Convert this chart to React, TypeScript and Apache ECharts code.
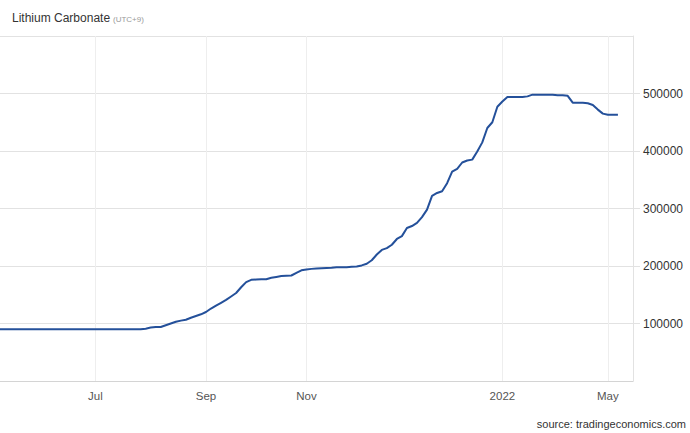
import React, { useEffect, useRef } from "react";
import * as echarts from "echarts";

// Tick labels on the category axis (index of the sample where each label sits)
const tickIndices: number[] = [19, 41, 61, 100, 121];
const tickNames: string[] = ["Jul", "Sep", "Nov", "2022", "May"];

// Lithium carbonate price samples (CNY/T), evenly spaced
const prices: (number | null)[] = [
  90000, 90000, 90000, 90000, 90000, 90000, 90000, 90000, 90000, 90000,
  90000, 90000, 90000, 90000, 90000, 90000, 90000, 90000, 90000, 90000,
  90000, 90000, 90000, 90000, 90000, 90000, 90000, 90000, 90000, 91000,
  93000, 94000, 94000, 97000, 100000, 103000, 105000, 106500, 110000, 113000,
  116000, 120000, 126000, 131000, 136000, 141000, 147000, 153000, 163000, 172000,
  176000, 176500, 177000, 177000, 179500, 181000, 182500, 183000, 183500, 188000,
  192500, 194000, 195000, 195500, 196000, 196500, 197000, 198000, 198000, 198000,
  198500, 199000, 201000, 204000, 210000, 220000, 228000, 231000, 237000, 247000,
  252000, 266000, 269500, 275000, 285000, 298000, 322000, 327000, 330000, 344000,
  364000, 369000, 380000, 383500, 385000, 399000, 415000, 440000, 450000, 477000,
  486000, 494000, 494000, 494000, 494000, 495000, 498000, 498000, 498000, 498000,
  498000, 497000, 497000, 496000, 484000, 484000, 484000, 483000, 480000, 472000,
  465000, 463000, 463000, 463000, null, null, null,
];

const categories: string[] = prices.map((_, i) => {
  const k = tickIndices.indexOf(i);
  return k >= 0 ? tickNames[k] : "";
});

const isTick = (index: number) => tickIndices.indexOf(index) >= 0;

export default function App() {
  const ref = useRef<HTMLDivElement>(null);

  useEffect(() => {
    if (!ref.current) return;
    const chart = echarts.init(ref.current, undefined, { renderer: "svg" });
    chart.setOption({
      animation: false,
      backgroundColor: "#ffffff",
      textStyle: { fontFamily: "Liberation Sans, Arial, sans-serif" },
      grid: { left: 0, right: 57, top: 36, bottom: 52, outerBoundsMode: "none", containLabel: false },
      xAxis: {
        type: "category",
        data: categories,
        boundaryGap: false,
        axisLine: { show: true, lineStyle: { color: "#d4d4d4", width: 1 } },
        axisTick: { show: false },
        axisLabel: {
          interval: (index: number) => isTick(index),
          color: "#555555",
          fontSize: 11.5,
          margin: 9,
          fontFamily: "Liberation Sans, Arial, sans-serif",
        },
        splitLine: {
          show: true,
          interval: (index: number) => isTick(index),
          lineStyle: { color: "#eeeeee", width: 1 },
        },
      },
      yAxis: {
        type: "value",
        position: "right",
        min: 0,
        max: 600000,
        interval: 100000,
        axisLine: { show: true, lineStyle: { color: "#e2e2e2", width: 1 } },
        axisTick: { show: true, length: 7, lineStyle: { color: "#e2e2e2" } },
        axisLabel: {
          showMinLabel: false,
          showMaxLabel: false,
          formatter: (v: number) => String(v),
          color: "#333333",
          fontSize: 12,
          margin: 10,
          fontFamily: "Liberation Sans, Arial, sans-serif",
        },
        splitLine: { show: true, lineStyle: { color: "#e2e2e2", width: 1 } },
      },
      series: [
        {
          type: "line",
          data: prices,
          showSymbol: false,
          symbol: "none",
          connectNulls: false,
          lineStyle: { color: "#24509a", width: 2 },
          itemStyle: { color: "#24509a" },
        },
      ],
      graphic: [
        {
          type: "text",
          left: 12,
          top: 12,
          style: {
            text: "Lithium Carbonate",
            fill: "#333333",
            fontSize: 12,
            fontFamily: "Liberation Sans, Arial, sans-serif",
          },
        },
        {
          type: "text",
          left: 113,
          top: 15,
          style: {
            text: "(UTC+9)",
            fill: "#999999",
            fontSize: 8,
            fontFamily: "Liberation Sans, Arial, sans-serif",
          },
        },
        {
          type: "text",
          right: 4,
          top: 418,
          style: {
            text: "source: tradingeconomics.com",
            fill: "#333333",
            fontSize: 11,
            fontFamily: "Liberation Sans, Arial, sans-serif",
          },
        },
      ],
    });
    return () => chart.dispose();
  }, []);

  return (
    <div
      ref={ref}
      style={{ position: "fixed", left: 0, top: 0, width: 690, height: 433 }}
    />
  );
}
